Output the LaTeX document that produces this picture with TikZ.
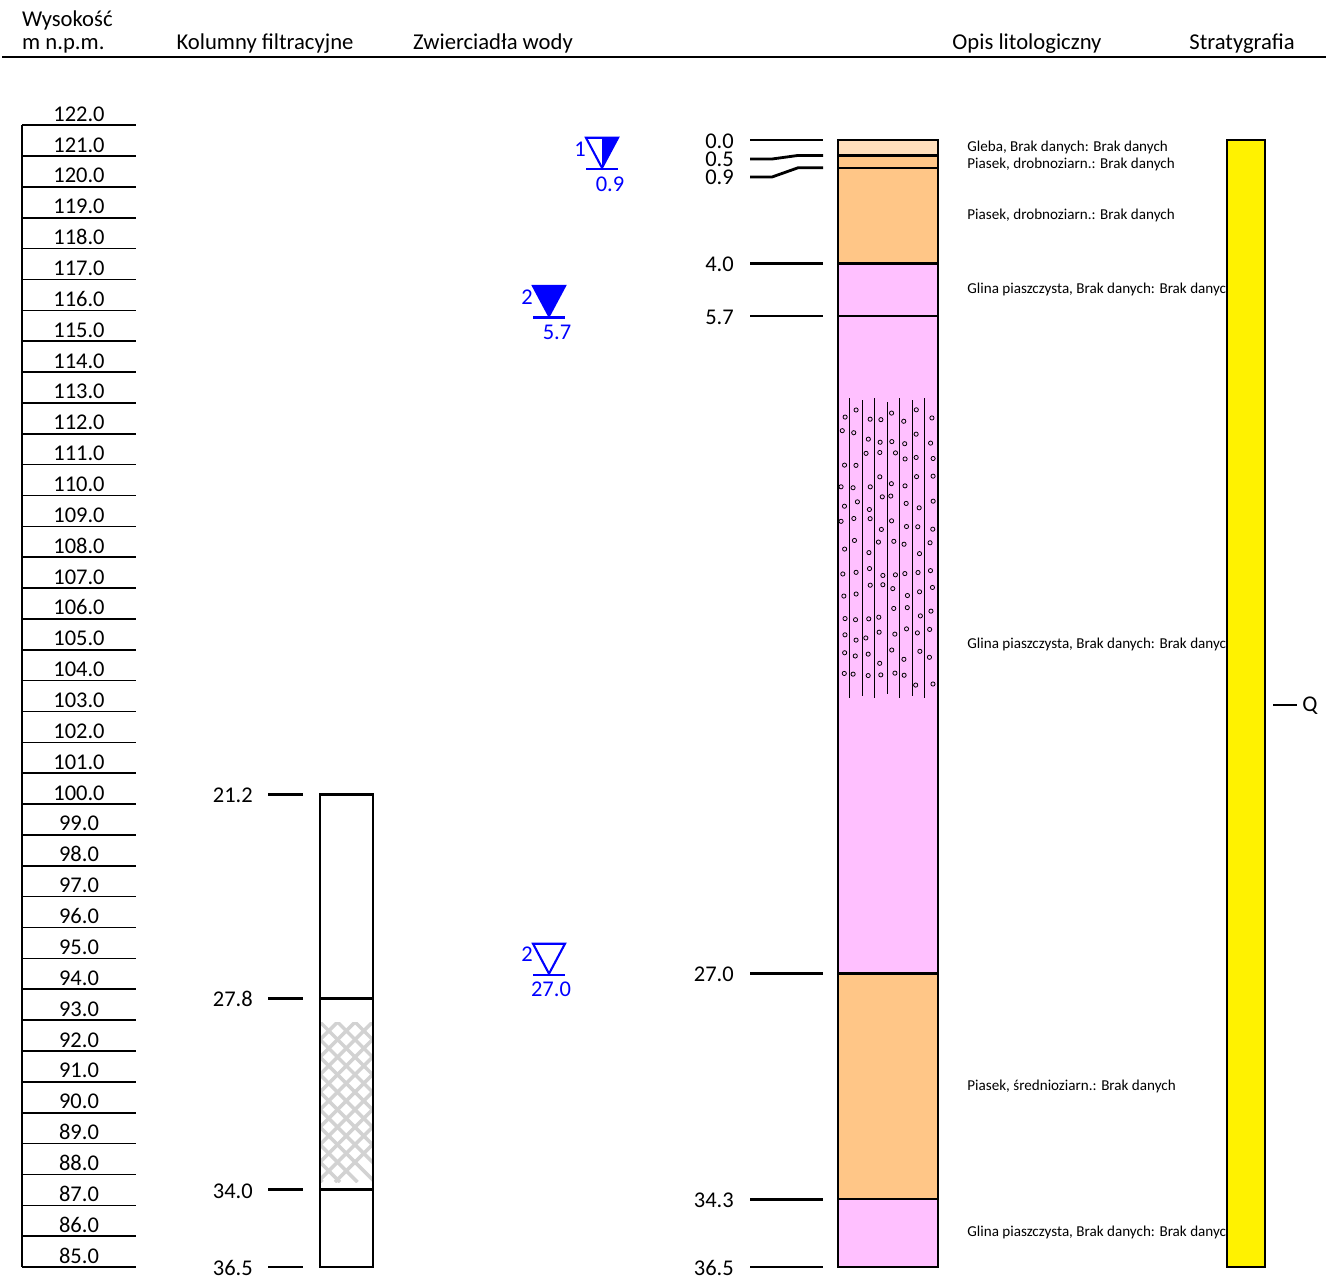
\documentclass[tikz,border=0pt]{standalone}
\usepackage{fontspec}
\setmainfont{Carlito}
\usetikzlibrary{calc}

% depth (m below ground) and elevation (m a.s.l.) to picture rows
\newcommand{\dy}[1]{140+(#1)*30.877}
\newcommand{\ey}[1]{1267-((#1)-85)*30.86}

\definecolor{soil}{HTML}{FFDFBC}
\definecolor{sand}{HTML}{FFC687}
\definecolor{loam}{HTML}{FFC0FF}
\definecolor{wblue}{HTML}{0000FF}

\tikzset{
  head/.style={font=\fontsize{12.9}{15}\selectfont, anchor=base},
  num/.style={font=\fontsize{12.8}{14}\selectfont},
  desc/.style={font=\fontsize{8.6}{10}\selectfont, anchor=west, inner sep=0pt},
  thick line/.style={line width=1.4pt},
  tickline/.style={line width=1.6pt},
  ruler/.style={line width=0.9pt},
  wl/.style={wblue, line width=1.2pt},
  wlnum/.style={wblue, font=\fontsize{12.8}{14}\selectfont},
}

\begin{document}
\begin{tikzpicture}[x=0.02cm, y=-0.02cm]
	\useasboundingbox (0,0) rectangle (1331,1275);

	% header row
	\node[head, anchor=base west] (hW) at (16,26) {Wysokość};
	\node[head, anchor=base west] (hM) at (16,49) {m n.p.m.};
	\node[head] (hK) at (265,49) {Kolumny filtracyjne};
	\node[head] (hZ) at (493,49) {Zwierciadła wody};
	\node[head] (hO) at (1027,49) {Opis litologiczny};
	\node[head] (hS) at (1242,49) {Stratygrafia};
	\draw[line width=1.2pt] (2,57) -- (1326,57);

	% elevation ruler
	\draw[ruler] (22,{\ey{122}}) -- (22,{\ey{85}});
	\foreach \e in {85,...,122} {
		\draw[ruler] (22,{\ey{\e}}) -- (136,{\ey{\e}});
		\node[num, anchor=base] (e\e) at (79,{\ey{\e}-4}) {\e.0};
	}

	% filter column
	\fill[white] (320,{\dy{21.2}}) rectangle (373,{\dy{36.5}});
	\begin{scope}
		\clip (320,1022) rectangle (373,1182);
		\foreach \i in {-10,...,10} {
			\draw[line width=2pt, gray!35] (320+\i*17.5,1022) -- ++(160,160);
			\draw[line width=2pt, gray!35] (320+\i*17.5,1022) -- ++(-160,160);
		}
	\end{scope}
	\draw[tickline] (320,{\dy{27.8}}) -- (373,{\dy{27.8}});
	\draw[tickline] (320,{\dy{34.0}}) -- (373,{\dy{34.0}});
	\draw[thick line] (320,{\dy{21.2}}) rectangle (373,{\dy{36.5}});
	\foreach \d/\n in {21.2/f1, 27.8/f2, 34.0/f3, 36.5/f4} {
		\node[num, anchor=east] (\n) at (259,{\dy{\d}+1}) {\d};
		\draw[tickline] (268,{\dy{\d}}) -- (303,{\dy{\d}});
	}

	% water tables
	\coordinate (w1) at (602,{\dy{0.9}});
	\coordinate (w2) at (549,{\dy{5.7}});
	\coordinate (w3) at (549,{\dy{27.0}});
	\fill[wblue] (w1) -- ++(0,-30) -- ++(16,0) -- cycle;
	\fill[wblue] (w2) -- ++(-16,-30) -- ++(32,0) -- cycle;
	\foreach \w in {w1,w2,w3} {
		\draw[wl] (\w) -- ++(-16,-30) -- ++(32,0) -- cycle;
		\draw[wl] ($(\w)+(-16,1.5)$) -- ++(32,0);
	}
	\node[wlnum, anchor=east, inner sep=0pt] (n1) at ($(w1)+(-16,-19)$) {1};
	\node[wlnum, anchor=east, inner sep=0pt] (n2) at ($(w2)+(-16,-19)$) {2};
	\node[wlnum, anchor=east, inner sep=0pt] (n3) at ($(w3)+(-16,-19)$) {2};
	\node[wlnum] (l1) at ($(w1)+(8,16)$) {0.9};
	\node[wlnum] (l2) at ($(w2)+(8,16)$) {5.7};
	\node[wlnum] (l3) at ($(w3)+(2,16)$) {27.0};

	% lithology column
	\fill[soil] (838,{\dy{0}}) rectangle (938,{\dy{0.5}});
	\fill[sand] (838,{\dy{0.5}}) rectangle (938,{\dy{4.0}});
	\fill[loam] (838,{\dy{4.0}}) rectangle (938,{\dy{27.0}});
	\fill[sand] (838,{\dy{27.0}}) rectangle (938,{\dy{34.3}});
	\fill[loam] (838,{\dy{34.3}}) rectangle (938,{\dy{36.5}});

	% loam symbol: vertical strokes with small pebbles
	\foreach \x/\a/\b in {849/398/698, 862/400/696, 874/398/698, 887/402/694, 899/398/698, 912/400/696, 924/398/698} {
		\draw[line width=0.5pt] (\x,\a) -- (\x,\b);
	}
	\pgfmathsetseed{17}
	\foreach \c in {843,855.5,868,880.5,893,905.5,918,931} {
		\foreach \k in {1,...,13} {
			\pgfmathsetmacro{\px}{\c+rand*2.5}
			\pgfmathsetmacro{\py}{400+\k*22-rnd*14}
			\draw[line width=0.45pt] (\px,\py) circle (2.1);
		}
	}

	\foreach \d in {0.5,0.9,4.0,5.7,27.0,34.3} {
		\draw[thick line] (838,{\dy{\d}}) -- (938,{\dy{\d}});
	}
	\draw[thick line] (838,{\dy{0}}) rectangle (938,{\dy{36.5}});

	% depth labels and ticks
	\node[num, anchor=east] (d00) at (740,141) {0.0};
	\node[num, anchor=east] (d05) at (740,159) {0.5};
	\node[num, anchor=east] (d09) at (740,177) {0.9};
	\draw[tickline] (750,{\dy{0}}) -- (823,{\dy{0}});
	\draw[tickline] (750,159) -- (772,159) -- (798,{\dy{0.5}}) -- (823,{\dy{0.5}});
	\draw[tickline] (750,177) -- (772,177) -- (798,{\dy{0.9}}) -- (823,{\dy{0.9}});
	\foreach \d/\n in {4.0/d40, 5.7/d57, 27.0/d270, 34.3/d343, 36.5/d365} {
		\node[num, anchor=east] (\n) at (740,{\dy{\d}+1}) {\d};
		\draw[tickline] (750,{\dy{\d}}) -- (823,{\dy{\d}});
	}

	% descriptions
	\node[desc] (t1) at (967,147) {Gleba, Brak danych: Brak danych};
	\node[desc] (t2) at (967,164) {Piasek, drobnoziarn.: Brak danych};
	\node[desc] (t3) at (967,215) {Piasek, drobnoziarn.: Brak danych};
	\node[desc] (t4) at (967,289) {Glina piaszczysta, Brak danych: Brak danych};
	\node[desc] (t5) at (967,644) {Glina piaszczysta, Brak danych: Brak danych};
	\node[desc] (t6) at (967,1086) {Piasek, średnioziarn.: Brak danych};
	\node[desc] (t7) at (967,1232) {Glina piaszczysta, Brak danych: Brak danych};

	% stratigraphy
	\filldraw[fill=yellow, thick line] (1227,{\dy{0}}) rectangle (1265,{\dy{36.5}});
	\draw[tickline] (1273,705) -- (1297,705);
	\node[num, anchor=west, inner sep=0pt] (q) at (1302,706) {Q};
\end{tikzpicture}
\end{document}
